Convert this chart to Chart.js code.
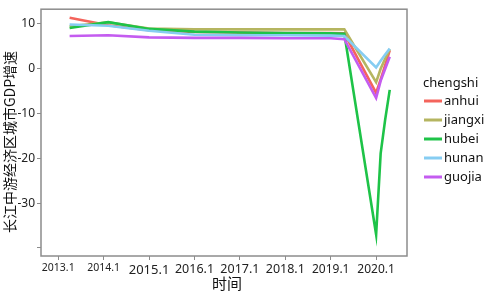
<!DOCTYPE html>
<html><head><meta charset="utf-8">
<script src="https://cdn.jsdelivr.net/npm/chart.js@4/dist/chart.umd.min.js"></script>
<style>html,body{margin:0;padding:0;background:#fff}#wrap{width:489px;height:292px;position:relative}</style>
</head><body><div id="wrap"><canvas id="c" width="489" height="292"></canvas></div>
<script>
const times   = [2013.35, 2014.2, 2015.1, 2016.1, 2017.1, 2018.1, 2019.1, 2019.4, 2020.1, 2020.2, 2020.3, 2020.4];
const anhui   = [11.4, 9.7, 8.6, 8.2, 8.1, 8.0, 8.0, 7.9, -5.4, -2.4, 0.8, 4.1];
const jiangxi = [9.5, 10.4, 9.0, 8.8, 8.8, 8.8, 8.8, 8.8, -3.0, 0.0, 2.3, 4.4];
const hubei   = [9.1, 10.4, 8.9, 8.3, 8.1, 8.0, 7.9, 7.8, -37.0, -18.9, -11.3, -4.7];
const hunan   = [9.9, 9.6, 8.5, 7.6, 7.5, 7.5, 7.4, 7.3, 0.3, 1.8, 3.2, 4.5];
const guojia  = [7.3, 7.5, 7.0, 6.9, 6.9, 6.8, 6.8, 6.6, -6.5, -2.7, 0.0, 2.7];
const seriesNames = ['anhui', 'jiangxi', 'hubei', 'hunan', 'guojia'];
const xTickValues = [2013.1, 2014.1, 2015.1, 2016.1, 2017.1, 2018.1, 2019.1, 2020.1];
const xTickLabels = ['2013.1', '2014.1', '2015.1', '2016.1', '2017.1', '2018.1', '2019.1', '2020.1'];
const yTickValues = [10, 0, -10, -20, -30, -40];
const yTickLabels = ['10', '0', '-10', '-20', '-30', ''];
const legendTitle = 'chengshi';
const xTitle = '时间';
const yTitle = '长江中游经济区城市GDP增速';

const seriesValues = [anhui, jiangxi, hubei, hunan, guojia];
const colors = ['#f4645c', '#b5b560', '#1ec348', '#86cdf2', '#c45cf0'];
const xTickFontSizes = [10.5, 10.5, 13, 12.5, 12.5, 12.5, 12, 12];
const LAT = '"Noto Sans", "Liberation Sans", sans-serif';
const CJK = '"Noto Sans CJK SC", "Noto Sans", sans-serif';

const datasets = seriesNames.map((n, i) => ({
  label: n,
  data: times.map((t, k) => ({x: t, y: seriesValues[i][k]})),
  borderColor: colors[i],
  backgroundColor: colors[i],
  borderWidth: 2.6,
  pointRadius: 0,
  tension: 0,
  fill: false,
  order: seriesNames.length - i
}));

const decor = {
  id: 'decor',
  afterDatasetsDraw(chart) {
    const ctx = chart.ctx, a = chart.chartArea;
    ctx.save();
    ctx.strokeStyle = '#8c8c8c';
    ctx.lineWidth = 1.5;
    ctx.strokeRect(a.left, a.top, a.right - a.left, a.bottom - a.top);
    ctx.fillStyle = '#111';
    ctx.font = '15px ' + CJK;
    ctx.textAlign = 'center';
    ctx.textBaseline = 'middle';
    ctx.fillText(xTitle, 227, 283);
    ctx.save();
    ctx.translate(10, 142);
    ctx.rotate(-Math.PI / 2);
    ctx.font = '14px ' + CJK;
    ctx.fillText(yTitle, 0, 0);
    ctx.restore();
    ctx.textAlign = 'left';
    ctx.font = '13px ' + LAT;
    ctx.fillStyle = '#111';
    ctx.fillText(legendTitle, 423, 83);
    seriesNames.forEach((n, i) => {
      const y = 101 + i * 19;
      ctx.strokeStyle = colors[i];
      ctx.lineWidth = 3;
      ctx.beginPath();
      ctx.moveTo(424, y);
      ctx.lineTo(442, y);
      ctx.stroke();
      ctx.fillStyle = '#111';
      ctx.fillText(n, 444, y);
    });
    ctx.restore();
  }
};

new Chart(document.getElementById('c'), {
  type: 'line',
  data: {datasets},
  options: {
    responsive: false,
    animation: false,
    devicePixelRatio: 1,
    layout: {padding: {left: 0, top: 5, right: 82, bottom: 0}},
    plugins: {legend: {display: false}, tooltip: {enabled: false}},
    scales: {
      x: {
        type: 'linear',
        min: 2012.72, max: 2020.78,
        afterBuildTicks: ax => { ax.ticks = xTickValues.map(v => ({value: v})); },
        afterFit: ax => { ax.height = 36; },
        grid: {drawOnChartArea: false, drawTicks: true, tickLength: 4, color: '#8c8c8c'},
        border: {display: false},
        ticks: {
          maxRotation: 0, autoSkip: false, padding: 2, color: '#222',
          font: c => ({size: xTickFontSizes[c.index] || 12, family: LAT}),
          callback: (v, i) => xTickLabels[i]
        }
      },
      y: {
        min: -41.8, max: 13.3,
        afterBuildTicks: ax => { ax.ticks = yTickValues.map(v => ({value: v})); },
        afterFit: ax => { ax.width = 41; },
        grid: {drawOnChartArea: false, drawTicks: true, tickLength: 4, color: '#8c8c8c'},
        border: {display: false},
        ticks: {
          padding: 2, color: '#222', font: {size: 12, family: LAT},
          callback: (v, i) => yTickLabels[i]
        }
      }
    }
  },
  plugins: [decor]
});
</script></body></html>
